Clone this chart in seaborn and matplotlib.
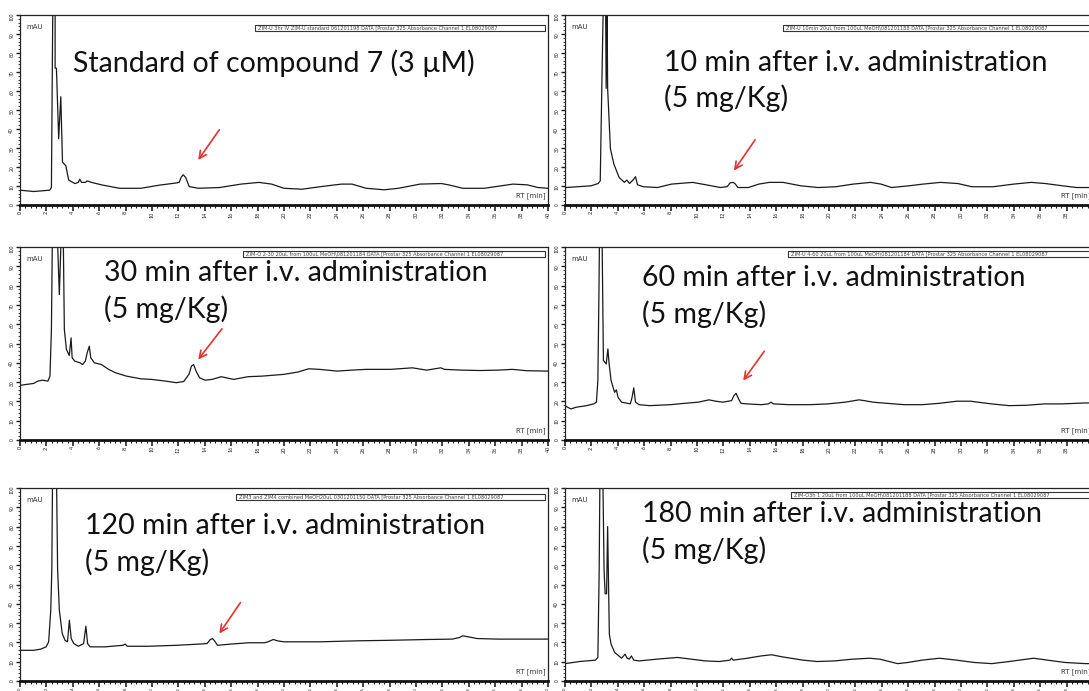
import matplotlib.pyplot as plt
import matplotlib.patches as mpatches
import seaborn as sns
from matplotlib.ticker import MultipleLocator

# ---- traces: retention time (min), signal (% of full scale) ----
# values above 100 are the off-scale solvent front
std_rt = [0.00, 1.03, 2.25, 2.38, 2.49, 2.66, 2.66, 2.76, 2.93, 3.09, 3.22, 3.47, 3.69, 4.15,
          4.42, 4.53, 4.66, 4.96, 5.09, 5.42, 6.18, 7.53, 9.16, 10.51, 11.73, 12.06, 12.20,
          12.36, 12.55, 12.82, 13.50, 15.12, 16.75, 18.10, 19.05, 20.00, 21.36, 22.71, 24.34,
          25.15, 26.23, 27.59, 28.67, 30.30, 31.92, 32.47, 33.55, 35.17, 36.26, 37.34, 38.43,
          39.24, 40.00]
std_sig = [7.8, 7.1, 7.8, 9.2, 110, 110, 72.0, 72.0, 34.9, 57.0, 22.5, 20.7, 13.1, 11.3,
           11.9, 13.6, 11.9, 11.9, 12.7, 11.9, 10.6, 8.8, 8.8, 10.4, 11.5, 11.9, 14.5,
           15.9, 14.5, 9.7, 8.8, 9.2, 11.0, 11.9, 11.0, 8.8, 8.3, 9.6, 11.0,
           11.0, 8.8, 8.0, 8.8, 11.0, 11.3, 10.6, 8.8, 8.8, 9.9, 11.0, 10.6,
           9.2, 8.8]

min10_rt = [0.08, 1.98, 2.51, 2.67, 2.80, 2.91, 3.07, 3.12, 3.18, 3.23, 3.44, 3.70, 4.10, 4.50,
            4.68, 4.89, 5.21, 5.34, 5.50, 5.95, 7.01, 8.07, 9.66, 10.71, 11.77, 12.30, 12.51,
            12.75, 12.91, 13.10, 13.89, 14.68, 15.48, 16.53, 17.86, 19.18, 20.50, 21.83, 23.15,
            23.94, 24.74, 26.06, 27.12, 28.44, 29.76, 30.82, 32.41, 33.99, 35.32, 36.38, 37.70,
            38.76, 40.00]
min10_sig = [9.2, 10.1, 11.3, 12.7, 66.7, 110, 110, 61.4, 110, 61.4, 29.6, 21.6, 14.5, 11.9,
             13.1, 11.3, 13.6, 14.9, 10.6, 9.6, 9.2, 11.0, 11.9, 10.6, 9.2, 9.7, 11.7,
             11.9, 11.0, 9.2, 9.2, 11.0, 11.9, 11.9, 10.1, 9.2, 9.6, 11.0, 11.9,
             11.0, 9.2, 10.1, 11.0, 11.9, 11.3, 9.6, 9.6, 11.0, 11.9, 11.3, 10.1,
             9.2, 9.2]

min30_rt = [0.00, 0.49, 1.03, 1.35, 1.70, 2.11, 2.27, 2.38, 2.46, 2.81, 2.98, 3.14, 3.27, 3.36,
            3.52, 3.73, 3.87, 3.95, 4.14, 4.55, 4.74, 4.95, 5.09, 5.25, 5.36, 5.63, 6.17,
            6.71, 7.25, 8.06, 9.15, 9.96, 11.04, 11.85, 12.40, 12.80, 12.99, 13.15, 13.34,
            13.61, 14.02, 14.56, 15.24, 15.64, 16.18, 17.27, 18.35, 19.97, 21.05, 21.87, 22.68,
            24.03, 25.12, 26.20, 28.09, 29.72, 30.80, 31.88, 32.15, 33.50, 34.86, 36.21, 37.29,
            38.38, 40.00]
min30_sig = [28.3, 28.8, 29.3, 30.5, 31.0, 30.5, 33.1, 57.2, 110, 110, 75.3, 110, 110, 57.2,
             46.9, 43.8, 52.9, 42.6, 40.9, 40.0, 39.1, 40.9, 45.2, 48.6, 42.6, 40.0, 39.1,
             36.6, 34.8, 33.1, 31.7, 31.4, 30.5, 29.7, 30.3, 34.0, 38.3, 39.1, 35.7,
             32.2, 31.0, 31.4, 32.8, 32.2, 31.4, 32.8, 33.1, 34.0, 35.2, 36.9, 36.6,
             35.7, 36.2, 36.6, 36.6, 37.4, 36.2, 37.4, 36.6, 36.2, 36.0, 36.2, 36.6,
             35.9, 35.7]

min60_rt = [0.00, 0.19, 0.45, 0.85, 1.64, 2.17, 2.38, 2.49, 2.57, 2.62, 2.80, 2.91, 3.12, 3.25,
            3.33, 3.49, 3.76, 3.89, 4.02, 4.29, 4.95, 5.08, 5.21, 5.34, 5.61, 6.40, 7.99,
            9.05, 10.11, 10.90, 11.43, 11.96, 12.62, 12.80, 12.96, 13.15, 13.33, 13.81, 14.87,
            15.40, 15.61, 15.79, 16.98, 18.57, 19.89, 21.22, 22.28, 22.67, 23.33, 24.39, 25.71,
            27.04, 28.36, 29.68, 30.74, 31.27, 32.33, 33.65, 34.97, 36.30, 37.62, 39.42, 40.00]
min60_sig = [17.8, 17.0, 16.1, 17.0, 17.8, 18.7, 19.6, 30.8, 75.8, 110, 110, 41.2, 39.4, 47.2,
             40.3, 30.8, 24.7, 26.0, 22.1, 19.6, 18.7, 22.1, 27.0, 19.6, 18.3, 17.8, 18.3,
             19.0, 19.6, 20.8, 20.1, 19.6, 20.4, 23.0, 24.2, 21.3, 19.0, 18.7, 18.3,
             18.7, 19.6, 18.7, 18.3, 18.3, 18.7, 19.6, 20.8, 20.4, 19.6, 19.0, 18.3,
             18.3, 19.0, 20.1, 20.1, 19.6, 18.7, 17.8, 18.0, 18.7, 18.7, 19.2, 19.2]

min120_rt = [0.00, 1.03, 1.57, 1.98, 2.17, 2.33, 2.41, 2.47, 2.76, 2.85, 2.98, 3.20, 3.41, 3.60,
             3.74, 3.88, 4.07, 4.42, 4.82, 4.99, 5.12, 5.31, 6.45, 7.80, 7.97, 8.13, 9.70,
             11.87, 13.50, 14.17, 14.42, 14.58, 14.74, 14.96, 15.93, 17.29, 18.51, 18.78, 19.19,
             19.51, 20.00, 22.71, 25.42, 28.13, 30.84, 32.74, 33.28, 33.55, 33.96, 34.63, 36.26,
             38.97, 40.00]
min120_sig = [15.9, 15.9, 16.5, 17.7, 20.3, 36.7, 57.5, 110, 110, 57.5, 36.7, 24.6, 21.1, 20.3,
              31.5, 22.0, 19.4, 18.0, 19.4, 28.4, 19.4, 17.7, 17.7, 18.5, 19.1, 18.0, 18.0,
              18.5, 19.1, 19.4, 21.5, 22.0, 20.8, 18.5, 19.1, 19.8, 19.8, 20.3, 21.5,
              20.8, 20.3, 20.3, 20.8, 21.1, 21.5, 21.7, 22.5, 23.4, 22.9, 22.0, 21.7,
              21.7, 21.7]

min180_rt = [0.00, 1.11, 2.30, 2.49, 2.59, 2.65, 2.86, 2.96, 3.04, 3.15, 3.23, 3.31, 3.36, 3.49,
             3.76, 4.29, 4.55, 4.71, 4.87, 5.03, 5.21, 5.61, 6.93, 8.52, 9.58, 10.63, 11.69,
             12.49, 12.62, 12.75, 13.81, 14.87, 15.66, 16.46, 18.04, 19.10, 20.42, 21.75, 23.07,
             23.86, 25.19, 25.98, 27.04, 28.36, 29.68, 31.01, 32.33, 33.65, 35.50, 36.56, 37.88,
             39.42, 40.00]
min180_sig = [9.0, 10.1, 10.8, 12.2, 57.4, 110, 110, 57.4, 45.2, 45.2, 80.0, 45.2, 24.3, 19.1,
              14.8, 11.8, 13.9, 11.8, 11.3, 13.0, 10.8, 10.4, 11.3, 12.2, 11.3, 10.4, 10.1,
              10.8, 11.8, 10.8, 11.8, 13.0, 13.6, 12.5, 10.8, 10.1, 10.4, 11.3, 11.8,
              11.3, 9.0, 9.6, 10.8, 11.8, 10.8, 9.6, 9.0, 10.1, 11.8, 10.8, 9.6,
              9.0, 9.0]

traces = [(std_rt, std_sig), (min10_rt, min10_sig), (min30_rt, min30_sig),
          (min60_rt, min60_sig), (min120_rt, min120_sig), (min180_rt, min180_sig)]

panel_titles = [
    "Standard of compound 7 (3 \u00b5M)",
    "10 min after i.v. administration\n(5 mg/Kg)",
    "30 min after i.v. administration\n(5 mg/Kg)",
    "60 min after i.v. administration\n(5 mg/Kg)",
    "120 min after i.v. administration\n(5 mg/Kg)",
    "180 min after i.v. administration\n(5 mg/Kg)",
]
header_texts = [
    "ZIM-U 3hr IV ZIM-U standard 061201198 DATA [Prostar 325 Absorbance Channel 1 EL08029087",
    "ZIM-U 10min 20uL from 100uL MeOH\\081201188 DATA [Prostar 325 Absorbance Channel 1 EL08029087",
    "ZIM-O 2-30 20uL from 100uL MeOH\\081201184 DATA [Prostar 325 Absorbance Channel 1 EL08029087",
    "ZIM-U 4-60 20uL from 100uL MeOH\\081201184 DATA [Prostar 325 Absorbance Channel 1 EL08029087",
    "ZIM3 and ZIM4 combined MeOH20uL 0301201150 DATA [Prostar 325 Absorbance Channel 1 EL08029087",
    "ZIM-O3h 1 20uL from 100uL MeOH\\081201188 DATA [Prostar 325 Absorbance Channel 1 EL08029087",
]

# ---- layout (pixels of the 1089x691 picture, and positions in data units) ----
W, H = 1089, 691
col_x = [20, 565]
col_w = 528
rows = [(15, 205), (247, 440), (488, 681)]
title_pos = [(4.0, 74.7), (7.5, 65.2), (6.4, 77.0), (5.8, 74.4), (4.9, 70.8), (5.8, 77.0)]
header_pos = [(0.445, 0.918), (0.413, 0.918), (0.423, 0.950), (0.423, 0.950), (0.410, 0.940), (0.428, 0.950)]
arrows = [((15.1, 39.6), (13.5, 23.7)), ((14.4, 34.3), (12.8, 18.1)),
          ((15.3, 57.6), (13.5, 41.7)), ((15.1, 46.0), (13.5, 30.8)),
          ((16.7, 40.6), (15.1, 24.6)), None]

sns.set_theme(style="white")
plt.rcParams["font.family"] = ["Lato", "DejaVu Sans"]
plt.rcParams["xtick.direction"] = "out"
plt.rcParams["ytick.direction"] = "out"

fig = plt.figure(figsize=(W / 100, H / 100), dpi=100)

for i, (rt, sig) in enumerate(traces):
    r, c = divmod(i, 2)
    top, bot = rows[r]
    ax = fig.add_axes([col_x[c] / W, 1 - bot / H, col_w / W, (bot - top) / H])

    sns.lineplot(x=rt, y=sig, estimator=None, sort=False, color="#1a1a1a",
                 linewidth=0.9, ax=ax)

    ax.set_xlim(0, 40)
    ax.set_ylim(0, 100)
    ax.set_xlabel("")
    ax.set_ylabel("")
    for side in ["top", "right", "left"]:
        ax.spines[side].set_linewidth(0.9)
        ax.spines[side].set_color("#222222")
    ax.spines["bottom"].set_linewidth(2.0)
    ax.spines["bottom"].set_color("#111111")

    # right column runs past the picture edge, so its last label is left off
    last_tick = 40 if c == 0 else 38
    ax.xaxis.set_minor_locator(MultipleLocator(0.4))
    ax.yaxis.set_major_locator(MultipleLocator(10))
    ax.yaxis.set_minor_locator(MultipleLocator(2))
    ax.set_xticks(range(0, last_tick + 1, 2))
    ax.set_xticklabels([str(v) for v in range(0, last_tick + 1, 2)])
    lab_size = 4 if r < 2 else 3
    ax.tick_params(axis="x", which="major", length=4, width=1.2, colors="#222222",
                   labelsize=lab_size, labelrotation=90, pad=0.5, bottom=True)
    ax.tick_params(axis="x", which="minor", length=2.5, width=0.8, colors="#222222", bottom=True)
    ax.tick_params(axis="y", which="major", length=3, width=1.0, colors="#222222",
                   labelsize=3.5, labelrotation=90, pad=1, left=True)
    ax.tick_params(axis="y", which="minor", length=1.5, width=0.6, colors="#222222", left=True)

    ax.text(0.012, 0.955, "mAU", transform=ax.transAxes, fontsize=5,
            family=["DejaVu Sans"], ha="left", va="top", color="#333333")
    ax.text(0.995, 0.03, "RT [min]", transform=ax.transAxes, fontsize=5,
            family=["DejaVu Sans"], ha="right", va="bottom", color="#333333")

    hx, hy = header_pos[i]
    ax.add_patch(mpatches.Rectangle((hx, hy), 0.995 - hx, 0.028, transform=ax.transAxes,
                                    fill=False, edgecolor="#333333", linewidth=0.8))
    ax.text(hx + 0.005, hy + 0.014, header_texts[i], transform=ax.transAxes, fontsize=3.6,
            family=["DejaVu Sans"], ha="left", va="center", color="#444444", clip_on=True)

    tx, ty = title_pos[i]
    ax.text(tx, ty, panel_titles[i], fontsize=20.5, ha="left", va="center",
            linespacing=1.4, color="#111111")

    if arrows[i] is not None:
        tail, head = arrows[i]
        ax.annotate("", xy=head, xytext=tail,
                    arrowprops=dict(arrowstyle="->", color="#e8302c", lw=1.2,
                                    mutation_scale=13, shrinkA=0, shrinkB=0))

fig.savefig("out.png", dpi=100)
